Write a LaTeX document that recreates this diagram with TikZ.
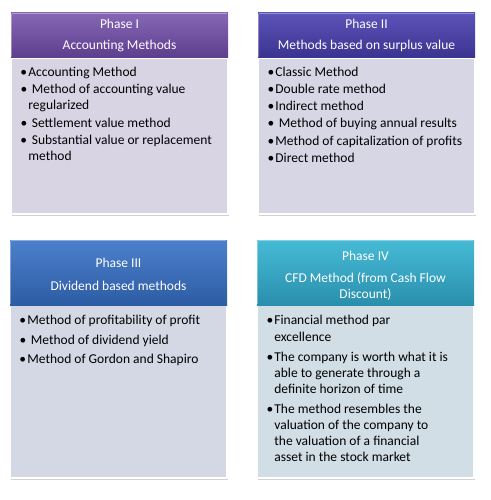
\documentclass[tikz,border=0pt]{standalone}
\usepackage{fontspec}
\setmainfont{Carlito}
\usetikzlibrary{shadows}
\definecolor{hAtop}{HTML}{8667B5}\definecolor{hAbot}{HTML}{5D3E8E}
\definecolor{hBtop}{HTML}{5C53B8}\definecolor{hBbot}{HTML}{3B3390}
\definecolor{hCtop}{HTML}{4D80CC}\definecolor{hCbot}{HTML}{2C5CA3}
\definecolor{hDtop}{HTML}{46BBD6}\definecolor{hDbot}{HTML}{2A8FAD}
\definecolor{bA}{HTML}{D9D4E3}
\definecolor{bB}{HTML}{D6D6E5}
\definecolor{bC}{HTML}{D3D8E4}
\definecolor{bD}{HTML}{D1DEE5}
\newcommand\bitem[2][0pt]{\par\hangindent=8.3pt\hangafter=1\noindent\makebox[8.3pt][l]{\hspace{0.4pt}\textbullet}\hspace*{#1}#2\par}
\tikzset{
  hdrbox/.style={minimum width=217pt, inner sep=0pt},
  hdr/.style={inner sep=0pt, text=white, align=center,
    font=\fontsize{13.5}{16}\selectfont},
  bodybox/.style={minimum width=217pt, inner sep=0pt, draw=white, line width=1.2pt,
    drop shadow={shadow xshift=0.6pt, shadow yshift=-2pt, opacity=0.35}},
  btext/.style={anchor=base west, inner sep=0pt, text=black},
  bevel/.style={white, opacity=0.35, line width=1.2pt},
}
\begin{document}
\begin{tikzpicture}[x=1pt,y=-1pt]
\fill[white] (0,0) rectangle (490,500);
\useasboundingbox (0,0) rectangle (490,500);
% bodies
\node[bodybox, fill=bA, minimum height=156pt] (b1) at (119.5,136) {};
\node[bodybox, fill=bB, minimum height=156pt] (b2) at (366.5,136) {};
\node[bodybox, fill=bC, minimum height=173pt] (b3) at (118.5,391.5) {};
\node[bodybox, fill=bD, minimum height=173pt] (b4) at (365.5,391.5) {};
% header boxes
\node[hdrbox, minimum height=45pt, top color=hAtop, bottom color=hAbot] (h1) at (119.5,35.5) {};
\node[hdrbox, minimum height=45pt, top color=hBtop, bottom color=hBbot] (h2) at (366.5,35.5) {};
\node[hdrbox, minimum height=65pt, top color=hCtop, bottom color=hCbot] (h3) at (118.5,272.5) {};
\node[hdrbox, minimum height=65pt, top color=hDtop, bottom color=hDbot] (h4) at (365.5,272.5) {};
\foreach \h in {h1,h2,h3,h4}{
  \draw[bevel] ([shift={(1,0.8)}]\h.north west) -- ([shift={(-1,0.8)}]\h.north east);
  \draw[bevel] ([shift={(0.8,1)}]\h.north west) -- ([shift={(0.8,-1)}]\h.south west);
}
% header texts
\node[hdr] (l1) at ([yshift=0pt]h1.center) {Phase I\\[5pt]Accounting Methods};
\node[hdr] (l2) at ([yshift=0pt]h2.center) {Phase II\\[5pt]Methods based on surplus value};
\node[hdr] (l3) at ([yshift=-1.5pt]h3.center) {Phase III\\[7pt]Dividend based methods};
\node[hdr] (l4) at ([yshift=-3.5pt]h4.center) {Phase IV\\[6pt]CFD Method (from Cash Flow\\Discount)};
% body texts
\node[btext] (t1) at ([shift={(9.5,19)}]b1.north west) {\parbox[t]{205pt}{\fontsize{13.5}{16}\selectfont\setlength\parskip{1.5pt}%
\bitem{Accounting Method}
\bitem[3.5pt]{Method of accounting value\\regularized}
\bitem[3.5pt]{Settlement value method}
\bitem[3.5pt]{Substantial value or replacement\\method}}};
\node[btext] (t2) at ([shift={(9.5,19)}]b2.north west) {\parbox[t]{205pt}{\fontsize{13.5}{16}\selectfont\setlength\parskip{1.2pt}%
\bitem{Classic Method}
\bitem{Double rate method}
\bitem{Indirect method}
\bitem[3.5pt]{Method of buying annual results}
\bitem{Method of capitalization of profits}
\bitem{Direct method}}};
\node[btext] (t3) at ([shift={(9.5,20.5)}]b3.north west) {\parbox[t]{205pt}{\fontsize{13.5}{16}\selectfont\setlength\parskip{3.3pt}%
\bitem{Method of profitability of profit}
\bitem[3.5pt]{Method of dividend yield}
\bitem{Method of Gordon and Shapiro}}};
\node[btext] (t4) at ([shift={(9.5,20.5)}]b4.north west) {\parbox[t]{205pt}{\fontsize{13.5}{16.1}\selectfont\setlength\parskip{3.9pt}%
\bitem{Financial method par\\excellence}
\bitem{The company is worth what it is\\able to generate through a\\definite horizon of time}
\bitem{The method resembles the\\valuation of the company to\\the valuation of a financial\\asset in the stock market}}};
\end{tikzpicture}
\end{document}
